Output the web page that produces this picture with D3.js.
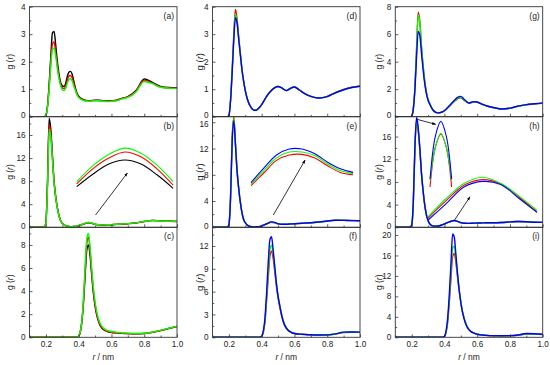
<!DOCTYPE html>
<html><head><meta charset="utf-8">
<script src="https://cdn.jsdelivr.net/npm/d3@7"></script>
<style>body{margin:0;background:#fff}svg{display:block;font-family:Arial,"Liberation Sans",sans-serif}</style>
</head><body><svg id="c" width="550" height="365"></svg>
<script>
// ---------- data ----------
const R1 = [0.10,0.18,0.19,0.20,0.21,0.22,0.23,0.24,0.25,0.26,0.27,0.28,0.29,0.30,0.31,0.32,0.33,0.34,0.35,0.36,0.37,0.38,0.39,0.40,0.43,0.46,0.48,0.50,0.52,0.55,0.58,0.60,0.63,0.66,0.70,0.75,0.80,0.85,0.90,0.95,1.00];
const R3 = [0.10,0.38,0.39,0.40,0.41,0.42,0.43,0.44,0.45,0.46,0.47,0.48,0.49,0.50,0.51,0.52,0.53,0.54,0.56,0.58,0.60,0.63,0.66,0.70,0.75,0.80,0.85,0.90,0.95,1.00];

const aBlack = [0,0,0,0.05,0.4,1.2,2.2,3.05,3.1,2.6,2.0,1.55,1.25,1.12,1.1,1.2,1.45,1.62,1.65,1.55,1.3,1.05,0.85,0.75,0.62,0.58,0.59,0.6,0.6,0.58,0.57,0.58,0.6,0.66,0.73,0.95,1.37,1.25,1.1,1.06,1.05];
const aRed   = [0,0,0,0.05,0.38,1.1,2.0,2.65,2.72,2.35,1.85,1.45,1.18,1.05,1.02,1.1,1.3,1.47,1.5,1.42,1.22,1.0,0.82,0.72,0.6,0.57,0.58,0.59,0.59,0.57,0.56,0.57,0.59,0.65,0.72,0.93,1.33,1.22,1.08,1.05,1.04];
const aGreen = [0,0,0,0.05,0.35,1.0,1.85,2.45,2.5,2.2,1.75,1.38,1.12,0.98,0.95,1.02,1.2,1.35,1.38,1.3,1.12,0.95,0.8,0.7,0.59,0.56,0.57,0.58,0.58,0.56,0.55,0.56,0.58,0.64,0.7,0.9,1.28,1.2,1.07,1.04,1.03];

const bBlack = [0,0,0,0.8,8.0,18.9,17.0,12.5,8.0,5.3,3.4,2.0,1.15,0.7,0.45,0.3,0.2,0.15,0.12,0.12,0.13,0.15,0.2,0.25,0.55,0.8,0.7,0.5,0.42,0.4,0.42,0.45,0.5,0.55,0.62,0.75,1.0,1.2,1.12,1.05,1.02];
const bRed   = [0,0,0,0.75,7.6,17.8,16.2,12.0,7.8,5.2,3.35,2.0,1.15,0.7,0.45,0.3,0.2,0.15,0.12,0.12,0.13,0.16,0.21,0.27,0.58,0.82,0.72,0.52,0.43,0.41,0.43,0.46,0.51,0.56,0.63,0.76,1.0,1.18,1.1,1.04,1.01];
const bGreen = [0,0,0,0.7,7.2,17.0,15.6,11.7,7.7,5.1,3.3,2.0,1.15,0.7,0.45,0.3,0.2,0.15,0.12,0.12,0.14,0.17,0.22,0.28,0.6,0.84,0.74,0.53,0.44,0.42,0.44,0.47,0.52,0.57,0.64,0.77,1.0,1.17,1.09,1.03,1.0];

const cBlack = [0,0,0.02,0.1,0.46,1.4,3.1,5.5,7.6,8.0,7.0,5.3,3.8,2.7,1.95,1.42,1.05,0.82,0.6,0.48,0.42,0.38,0.35,0.32,0.3,0.33,0.43,0.58,0.76,0.94];
const cRed   = [0,0,0.02,0.1,0.48,1.45,3.3,5.9,8.2,8.7,7.5,5.6,4.0,2.85,2.05,1.5,1.12,0.88,0.62,0.5,0.44,0.39,0.36,0.33,0.31,0.34,0.44,0.59,0.77,0.95];
const cGreen = [0,0,0.02,0.1,0.5,1.5,3.5,6.3,8.6,9.0,7.7,5.9,4.3,3.1,2.25,1.65,1.25,0.98,0.7,0.57,0.5,0.44,0.4,0.36,0.33,0.35,0.45,0.6,0.78,0.95];

const dRed   = [0,0,0,0.05,0.6,1.7,3.0,3.9,3.55,2.9,2.3,1.72,1.3,0.95,0.7,0.52,0.39,0.3,0.25,0.23,0.25,0.3,0.36,0.44,0.73,0.95,1.05,1.1,1.06,0.95,1.04,1.08,0.97,0.85,0.74,0.68,0.74,0.88,0.99,1.07,1.12];
const dGreen = [0,0,0,0.05,0.58,1.65,2.9,3.75,3.45,2.85,2.27,1.7,1.29,0.95,0.7,0.52,0.39,0.3,0.25,0.23,0.25,0.3,0.36,0.44,0.74,0.96,1.06,1.1,1.06,0.95,1.05,1.08,0.97,0.85,0.74,0.68,0.73,0.87,0.98,1.06,1.11];
const dBlue  = [0,0,0,0.05,0.56,1.6,2.8,3.6,3.4,2.8,2.25,1.69,1.28,0.95,0.7,0.52,0.39,0.3,0.25,0.23,0.25,0.3,0.36,0.44,0.74,0.96,1.06,1.1,1.06,0.95,1.05,1.08,0.97,0.85,0.74,0.68,0.73,0.87,0.98,1.06,1.11];

const eRed   = [0,0,0,0.4,4.5,13.5,16.8,12.8,8.6,5.9,3.8,2.2,1.2,0.7,0.4,0.22,0.12,0.08,0.07,0.07,0.08,0.1,0.13,0.18,0.5,0.78,0.7,0.52,0.45,0.45,0.5,0.52,0.58,0.62,0.68,0.8,0.95,1.1,1.08,1.03,1.0];
const eGreen = [0,0,0,0.4,4.4,13.3,16.6,12.7,8.6,5.9,3.8,2.2,1.2,0.7,0.4,0.22,0.12,0.08,0.07,0.07,0.08,0.1,0.13,0.19,0.52,0.8,0.72,0.53,0.46,0.46,0.51,0.53,0.59,0.63,0.69,0.8,0.95,1.09,1.07,1.02,1.0];
const eBlue  = [0,0,0,0.4,4.3,13.0,16.2,12.6,8.6,5.9,3.8,2.2,1.2,0.7,0.4,0.22,0.12,0.08,0.07,0.07,0.08,0.1,0.14,0.2,0.54,0.82,0.74,0.55,0.47,0.47,0.52,0.54,0.6,0.64,0.7,0.8,0.95,1.08,1.06,1.02,1.0];

const fRed   = [0,0,0.02,0.12,0.65,2.0,4.8,7.8,10.6,11.3,10.4,8.6,6.7,5.2,4.0,3.0,2.2,1.6,0.95,0.65,0.5,0.42,0.37,0.32,0.29,0.31,0.42,0.62,0.66,0.65];
const fGreen = [0,0,0.02,0.13,0.7,2.2,5.2,8.6,11.5,12.1,11.0,9.1,7.1,5.5,4.3,3.2,2.3,1.7,1.0,0.68,0.52,0.43,0.38,0.33,0.3,0.32,0.44,0.66,0.69,0.67];
const fBlue  = [0,0,0.02,0.15,0.8,2.5,5.8,9.8,12.8,13.2,11.5,9.3,7.1,5.4,4.2,3.1,2.2,1.6,0.95,0.65,0.5,0.42,0.38,0.33,0.3,0.32,0.45,0.68,0.7,0.68];

const gRed   = [0,0,0,0.05,0.6,2.2,5.0,7.6,6.9,5.1,3.7,2.55,1.75,1.25,0.95,0.7,0.5,0.38,0.31,0.29,0.3,0.32,0.36,0.42,0.75,1.1,1.3,1.37,1.2,0.98,1.07,1.05,0.9,0.77,0.66,0.56,0.62,0.76,0.86,0.92,0.98];
const gGreen = [0,0,0,0.05,0.6,2.15,4.9,7.4,6.8,5.05,3.68,2.55,1.75,1.25,0.95,0.7,0.5,0.38,0.31,0.29,0.3,0.32,0.36,0.43,0.77,1.12,1.33,1.4,1.22,0.99,1.08,1.06,0.9,0.77,0.66,0.56,0.62,0.76,0.87,0.93,0.99];
const gBlue  = [0,0,0,0.05,0.55,2.0,4.4,6.2,5.9,4.6,3.4,2.4,1.68,1.2,0.92,0.68,0.49,0.37,0.3,0.28,0.29,0.32,0.37,0.45,0.8,1.17,1.4,1.48,1.27,1.0,1.1,1.07,0.91,0.78,0.67,0.56,0.62,0.77,0.88,0.94,1.0];

const hRed   = [0,0,0,0.4,4.3,14.0,18.8,17.0,13.6,9.35,6.3,3.85,2.2,1.2,0.6,0.35,0.25,0.2,0.2,0.22,0.28,0.36,0.46,0.58,0.95,1.17,1.04,0.82,0.72,0.7,0.73,0.75,0.78,0.8,0.8,0.85,0.95,1.02,0.98,0.9,0.87];
const hGreen = [0,0,0,0.4,4.4,14.2,18.9,17.1,13.7,9.4,6.35,3.9,2.2,1.2,0.6,0.35,0.25,0.2,0.2,0.22,0.28,0.36,0.46,0.58,0.95,1.18,1.04,0.82,0.72,0.7,0.73,0.75,0.78,0.8,0.8,0.85,0.95,1.02,0.98,0.9,0.87];
const hBlue  = [0,0,0,0.4,4.5,14.5,19.4,17.5,13.9,9.5,6.4,3.9,2.2,1.2,0.6,0.35,0.25,0.2,0.2,0.22,0.28,0.36,0.46,0.58,0.95,1.2,1.05,0.82,0.72,0.7,0.73,0.75,0.78,0.8,0.8,0.85,0.95,1.02,0.98,0.9,0.87];

const iRed   = [0,0,0.02,0.15,0.9,3.0,6.9,11.5,15.8,16.4,14.6,11.8,9.1,6.9,5.1,3.8,2.8,2.05,1.2,0.82,0.58,0.43,0.35,0.3,0.28,0.3,0.4,0.62,0.62,0.56];
const iGreen = [0,0,0.02,0.18,1.0,3.3,7.5,12.8,17.5,17.8,15.4,12.2,9.3,7.0,5.1,3.8,2.8,2.05,1.2,0.85,0.6,0.45,0.37,0.32,0.3,0.31,0.42,0.68,0.65,0.58];
const iBlue  = [0,0,0.02,0.2,1.2,3.8,8.5,14.5,20.2,19.6,16.2,12.5,9.3,6.8,4.9,3.6,2.6,1.9,1.15,0.85,0.6,0.45,0.37,0.32,0.3,0.32,0.45,0.75,0.7,0.6];

// inset (magnified) curves
const bInsR = [0.40,0.42,0.44,0.46,0.48,0.50,0.52];
const bInsBlack = [0.222,0.43,0.6,0.667,0.6,0.42,0.195];
const bInsRed   = [0.267,0.52,0.7,0.8,0.72,0.52,0.25];
const bInsGreen = [0.305,0.57,0.76,0.865,0.78,0.58,0.305];

const eInsR = [0.40,0.42,0.44,0.46,0.48,0.50,0.52,0.54,0.56];
const eInsRed   = [0.24,0.45,0.66,0.75,0.76,0.7,0.57,0.46,0.42];
const eInsGreen = [0.265,0.49,0.7,0.8,0.8,0.74,0.6,0.49,0.44];
const eInsBlue  = [0.29,0.53,0.75,0.85,0.85,0.77,0.63,0.52,0.46];

const h1InsR = [0.222,0.226,0.230,0.234,0.238];
const h1InsRed   = [15.5,18.0,18.8,18.0,15.5];
const h1InsGreen = [15.9,18.0,18.86,18.0,15.9];
const h1InsBlue  = [16.0,18.7,19.6,18.7,16.0];

const h2InsR = [0.40,0.42,0.44,0.46,0.48,0.50,0.52];
const h2InsRed   = [0.2,0.49,0.75,0.84,0.77,0.55,0.3];
const h2InsGreen = [0.22,0.525,0.78,0.88,0.78,0.57,0.33];
const h2InsBlue  = [0.167,0.44,0.72,0.81,0.76,0.53,0.295];

// ticks
const xTicks = [0.2,0.4,0.6,0.8,1.0];
const xMinor = [0.1,0.3,0.5,0.7,0.9];
const yTicksA = [0,1,2,3,4];
const yTicksB = [0,4,8,12,16];
const yTicksC = [0,2,4,6,8];
const yTicksD = [0,1,2,3,4];
const yTicksE = [0,4,8,12,16];
const yTicksF = [0,3,6,9,12];
const yTicksG = [0,2,4,6,8];
const yTicksH = [0,4,8,12,16];
const yTicksI = [0,4,8,12,16,20];

// ---------- layout ----------
const BLACK='#000000', RED='#ff0000', GREEN='#00ff00', BLUE='#0000ff';
const cols = [[29.5,177],[212.5,360],[395.3,542.7]];
const rows = [[6.7,116.7],[116.7,227.3],[227.3,337.3]];
const ylabX = [10.5,200,379];
const ylabSize = [8.5,9.5,8.5];

const panels = [
 {lab:'(a)',c:0,r:0,rr:R1,yMax:4,yT:yTicksA,ser:[[aBlack,BLACK],[aRed,RED],[aGreen,GREEN]]},
 {lab:'(b)',c:0,r:1,rr:R1,yMax:19.17,yT:yTicksB,ser:[[bBlack,BLACK],[bRed,RED],[bGreen,GREEN]],
   ins:[{rr:bInsR,dom:[0.40,0.52],rx:[0.388,0.976],gd:[0,1],gy:[4.73,15.13],ser:[[bInsBlack,BLACK],[bInsRed,RED],[bInsGreen,GREEN]]}],
   arr:[[0.503,2.13,0.697,9.41]]},
 {lab:'(c)',c:0,r:2,rr:R3,yMax:9.53,yT:yTicksC,ser:[[cBlack,BLACK],[cRed,RED],[cGreen,GREEN]]},
 {lab:'(d)',c:1,r:0,rr:R1,yMax:4,yT:yTicksD,ser:[[dRed,RED],[dGreen,GREEN],[dBlue,BLUE]]},
 {lab:'(e)',c:1,r:1,rr:R1,yMax:16.85,yT:yTicksE,ser:[[eRed,RED],[eGreen,GREEN],[eBlue,BLUE]],
   ins:[{rr:eInsR,dom:[0.40,0.56],rx:[0.335,0.958],gd:[0,1],gy:[4.16,13.3],ser:[[eInsRed,RED],[eInsGreen,GREEN],[eInsBlue,BLUE]]}],
   arr:[[0.471,1.87,0.665,10.24]]},
 {lab:'(f)',c:1,r:2,rr:R3,yMax:14.45,yT:yTicksF,ser:[[fRed,RED],[fGreen,GREEN],[fBlue,BLUE]]},
 {lab:'(g)',c:2,r:0,rr:R1,yMax:8,yT:yTicksG,ser:[[gRed,RED],[gGreen,GREEN],[gBlue,BLUE]]},
 {lab:'(h)',c:2,r:1,rr:R1,yMax:19.5,yT:yTicksH,ser:[[hRed,RED],[hGreen,GREEN],[hBlue,BLUE]],
   ins:[{rr:h1InsR,dom:[0.222,0.238],rx:[0.312,0.444],gd:[15,20],gy:[5.69,19.8],ser:[[h1InsRed,RED],[h1InsGreen,GREEN],[h1InsBlue,BLUE]]},
        {rr:h2InsR,dom:[0.40,0.52],rx:[0.300,0.965],gd:[0,1],gy:[-0.48,10.1],ser:[[h2InsRed,RED],[h2InsGreen,GREEN],[h2InsBlue,BLUE]]}],
   arr:[[0.226,19.09,0.347,18.15],[0.458,1.11,0.556,5.39]]},
 {lab:'(i)',c:2,r:2,rr:R3,yMax:21.5,yT:yTicksI,ser:[[iRed,RED],[iGreen,GREEN],[iBlue,BLUE]]}
];

const svg = d3.select('#c');
const defs = svg.append('defs');
defs.append('marker').attr('id','ah').attr('viewBox','0 0 10 10').attr('refX',9).attr('refY',5)
  .attr('markerWidth',5).attr('markerHeight',5).attr('orient','auto')
  .append('path').attr('d','M0,1.5L10,5L0,8.5Z').attr('fill','#000');

panels.forEach((p,pi)=>{
  const [x0,x1] = cols[p.c], [y0,y1] = rows[p.r];
  const x = d3.scaleLinear().domain([0.1,1.0]).range([x0,x1]);
  const y = d3.scaleLinear().domain([0,p.yMax]).range([y1,y0]);
  const g = svg.append('g');
  defs.append('clipPath').attr('id','cp'+pi).append('rect')
    .attr('x',x0).attr('y',y0).attr('width',x1-x0).attr('height',y1-y0);

  const line = d3.line().x((d,i)=>x(p.rr[i])).y(d=>y(d)).curve(d3.curveMonotoneX);
  const cg = g.append('g').attr('clip-path','url(#cp'+pi+')');
  p.ser.forEach(([vals,col])=>{
    cg.append('path').attr('d',line(vals)).attr('fill','none').attr('stroke',col).attr('stroke-width',1.4);
  });

  (p.ins||[]).forEach(ins=>{
    const ix = d3.scaleLinear().domain(ins.dom).range([x(ins.rx[0]),x(ins.rx[1])]);
    const iy = d3.scaleLinear().domain(ins.gd).range([y(ins.gy[0]),y(ins.gy[1])]);
    const il = d3.line().x((d,i)=>ix(ins.rr[i])).y(d=>iy(d)).curve(d3.curveCatmullRom);
    ins.ser.forEach(([vals,col])=>{
      cg.append('path').attr('d',il(vals)).attr('fill','none').attr('stroke',col).attr('stroke-width',1.1);
    });
  });
  (p.arr||[]).forEach(a=>{
    g.append('line').attr('x1',x(a[0])).attr('y1',y(a[1])).attr('x2',x(a[2])).attr('y2',y(a[3]))
      .attr('stroke','#000').attr('stroke-width',0.8).attr('marker-end','url(#ah)');
  });

  const bottom = p.r===2;
  g.append('g').attr('transform',`translate(0,${y1})`)
    .call(d3.axisBottom(x).tickValues(xTicks).tickSize(-3).tickSizeOuter(0).tickPadding(3.5)
      .tickFormat(bottom ? d3.format('.1f') : ''));
  g.append('g').attr('transform',`translate(0,${y1})`)
    .call(d3.axisBottom(x).tickValues(xMinor).tickSize(-1.8).tickSizeOuter(0).tickFormat(''));
  const ay = g.append('g').attr('transform',`translate(${x0},0)`)
    .call(d3.axisLeft(y).tickValues(p.yT).tickSize(-3).tickSizeOuter(0).tickPadding(4).tickFormat(d3.format('d')));
  const minorY = p.yT.slice(0,-1).map((v,i)=>(v+p.yT[i+1])/2).concat([p.yT[p.yT.length-1]+(p.yT[1]-p.yT[0])/2]).filter(v=>v<p.yMax);
  g.append('g').attr('transform',`translate(${x0},0)`)
    .call(d3.axisLeft(y).tickValues(minorY).tickSize(-1.8).tickSizeOuter(0).tickFormat(''));
  g.selectAll('.domain').remove();
  g.selectAll('.tick line').attr('stroke','#333').attr('stroke-width',0.8);
  g.selectAll('.tick text').attr('fill','#222').attr('font-size',8.2);
  // zero label of upper panels sits a touch higher so it clears the panel below
  if(!bottom) ay.selectAll('.tick text').filter(d=>d===0).attr('dy','0.1em');
  if(p.r===1) ay.selectAll('.tick text').filter(d=>d===p.yT[p.yT.length-1] && y(d)-y0<8).attr('dy','0.55em');

  g.append('rect').attr('x',x0).attr('y',y0).attr('width',x1-x0).attr('height',y1-y0)
    .attr('fill','none').attr('stroke','#333').attr('stroke-width',0.9);

  g.append('text').attr('x',x1-3).attr('y',y0+12).attr('text-anchor','end')
    .attr('font-size',8.5).attr('fill','#222').text(p.lab);
  const yl = g.append('text').attr('transform',`translate(${ylabX[p.c]},${(y0+y1)/2}) rotate(-90)`)
    .attr('text-anchor','middle').attr('dy','0.35em').attr('font-size',ylabSize[p.c]).attr('fill','#222');
  yl.append('tspan').text('g (');
  yl.append('tspan').attr('font-style','italic').text('r');
  yl.append('tspan').text(')');
  if(bottom){
    const xl = g.append('text').attr('x',(x0+x1)/2).attr('y',360).attr('text-anchor','middle')
      .attr('font-size',8.5).attr('fill','#222');
    xl.append('tspan').attr('font-style','italic').text('r');
    xl.append('tspan').text(' / nm');
  }
});
</script></body></html>
